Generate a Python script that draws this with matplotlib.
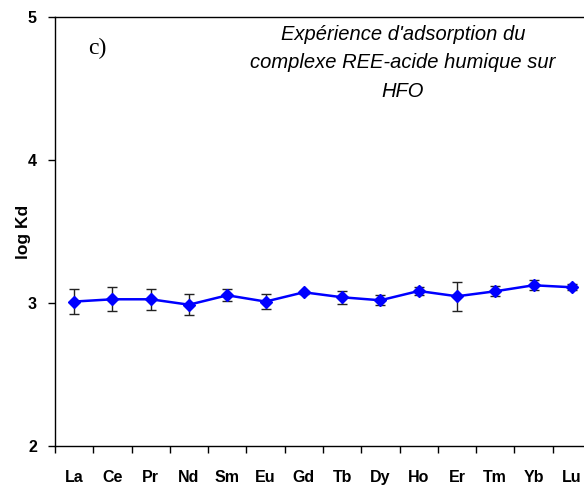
import numpy as np
import matplotlib.pyplot as plt
from matplotlib.ticker import FixedLocator

elements = ['La', 'Ce', 'Pr', 'Nd', 'Sm', 'Eu', 'Gd', 'Tb', 'Dy', 'Ho', 'Er', 'Tm', 'Yb', 'Lu']
log_kd = [3.01, 3.026, 3.026, 2.988, 3.054, 3.01, 3.075, 3.04, 3.019, 3.084, 3.047, 3.082, 3.124, 3.11]
err = [0.087, 0.085, 0.073, 0.072, 0.043, 0.055, 0.012, 0.045, 0.036, 0.025, 0.10, 0.036, 0.036, 0.02]
yticks = [2, 3, 4, 5]

plt.rcParams['font.family'] = ['Liberation Sans', 'DejaVu Sans']

fig = plt.figure(figsize=(5.84, 4.86), dpi=100)
ax = fig.add_axes([55/584, 40/486, 536/584, 429/486])

x = np.arange(len(elements)) + 0.5
ax.errorbar(x, log_kd, yerr=err, fmt='none', ecolor='#222222', elinewidth=1.0,
            capsize=3.5, capthick=1.0, zorder=2)
ax.plot(x, log_kd, color='#0000ff', lw=1.8, marker='D', ms=6.5, zorder=3)

ax.set_xlim(0, len(elements))
ax.set_ylim(2, 5)
ax.set_xticks(np.arange(len(elements) + 1))
ax.set_xticklabels([])
ax.xaxis.set_minor_locator(FixedLocator(x))
ax.set_xticklabels(elements, minor=True, fontsize=11.5, fontweight='bold')
ax.tick_params(axis='x', which='major', direction='out', length=5, width=1)
ax.tick_params(axis='x', which='minor', length=0, pad=17)
ax.set_yticks(yticks)
ax.set_yticklabels([str(v) for v in yticks], fontsize=11.5, fontweight='bold')
ax.tick_params(axis='y', direction='out', length=5, width=1, pad=8)

ax.spines['right'].set_visible(False)
for s in ['left', 'bottom', 'top']:
    ax.spines[s].set_linewidth(1.0)

ax.set_ylabel('log Kd', fontsize=12.5, fontweight='bold', labelpad=-2)

fig.text(88/584, 1 - 48/486, 'c)', family='Liberation Serif', fontsize=17,
         ha='left', va='center')
fig.text(403/584, 1 - 63/486,
         "Expérience d'adsorption du\ncomplexe REE-acide humique sur\nHFO",
         fontsize=14.5, style='italic', ha='center', va='center', linespacing=1.62)

plt.savefig('out.png', dpi=100)
